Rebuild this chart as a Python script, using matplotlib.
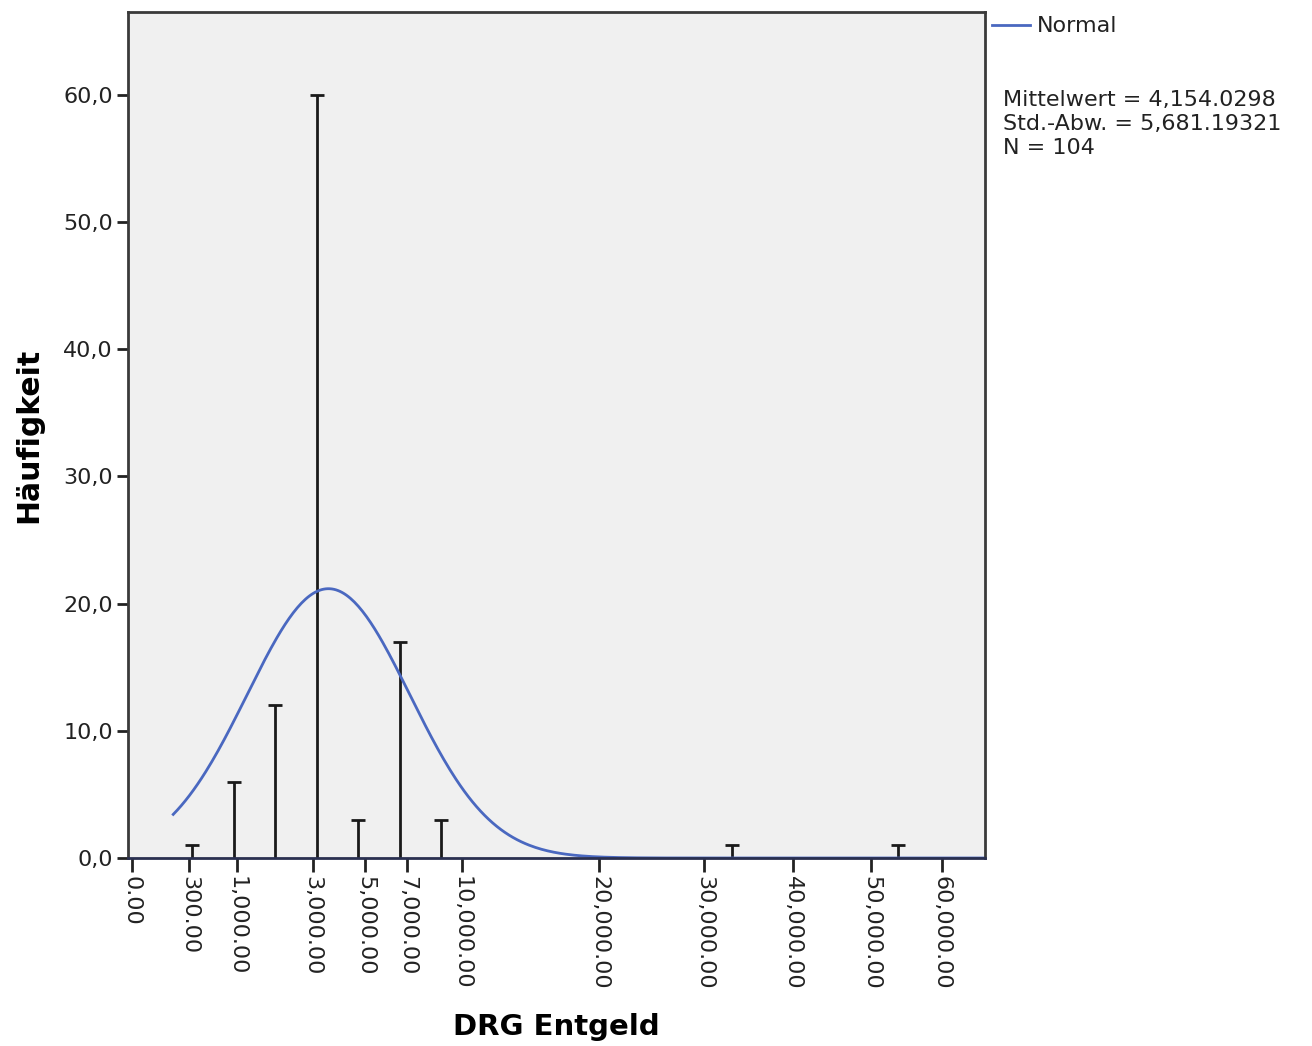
import numpy as np
import matplotlib
matplotlib.use("Agg")
import matplotlib.pyplot as plt

# bin positions on the (category-like) x axis, and counts per bin
bin_pos = [1.55, 2.55, 3.55, 4.55, 5.55, 6.55, 7.55, 14.55, 18.55]
counts = [1, 6, 12, 60, 3, 17, 3, 1, 1]

tick_pos = [0.09, 1.47, 2.62, 4.45, 5.71, 6.72, 8.04, 11.35, 13.88, 16.02, 17.90, 19.61]
tick_labels = ["0.00", "300.00", "1,000.00", "3,000.00", "5,000.00", "7,000.00",
               "10,000.00", "20,000.00", "30,000.00", "40,000.00", "50,000.00", "60,000.00"]
y_ticks = [0, 10, 20, 30, 40, 50, 60]

# normal fit drawn by SPSS (centre / spread in axis units)
N = 104
fit_center, fit_sigma = 4.83, 1.96
fit_start, fit_end = 1.09, 20.65

stats = ["Mittelwert = 4,154.0298", "Std.-Abw. = 5,681.19321", "N = 104"]

plt.rcParams["font.family"] = ["DejaVu Sans"]
fig = plt.figure(figsize=(13.12, 10.46), dpi=100)
ax = fig.add_axes([128/1312, 1 - 858/1046, (985-128)/1312, (858-12)/1046])
ax.set_facecolor("#F0F0F0")

ax.vlines(bin_pos, 0, counts, color="#1a1a1a", lw=2)
ax.plot(bin_pos, counts, ls="none", marker="_", ms=10, mew=2, color="#1a1a1a")

xs = np.linspace(fit_start, fit_end, 400)
ys = N / (fit_sigma * np.sqrt(2*np.pi)) * np.exp(-0.5*((xs - fit_center)/fit_sigma)**2)
ax.plot(xs, ys, color="#4A68C0", lw=2)

ax.set_xlim(0, 20.65)
ax.set_ylim(0, 66.5)
ax.set_xticks(tick_pos)
ax.set_xticklabels(tick_labels, rotation=270, fontsize=16, color="#222")
ax.set_yticks(y_ticks)
ax.set_yticklabels([f"{v},0" for v in y_ticks], fontsize=16, color="#222")
ax.tick_params(axis="x", length=10, width=2, pad=3, color="#222")
ax.tick_params(axis="y", length=8, width=2, pad=3, color="#222")
for s in ax.spines.values():
    s.set_color("#3a3a3a"); s.set_linewidth(2)
ax.spines["bottom"].set_color("#2a3050")

ax.set_ylabel("Häufigkeit", fontsize=21.5, fontweight="bold", labelpad=14)
fig.text(556/1312, 1 - 1027/1046, "DRG Entgeld", fontsize=21, fontweight="bold",
         ha="center", va="center")

# legend + stats on the right
fig.add_artist(plt.Line2D([992/1312, 1030/1312], [1 - 25/1046]*2, color="#4A68C0", lw=2))
fig.text(1037/1312, 1 - 26/1046, "Normal", fontsize=16, va="center", color="#222")
for i, t in enumerate(stats):
    fig.text(1003/1312, 1 - (100 + 24*i)/1046, t, fontsize=16, va="center", color="#222")

fig.savefig("out.png", dpi=100)
